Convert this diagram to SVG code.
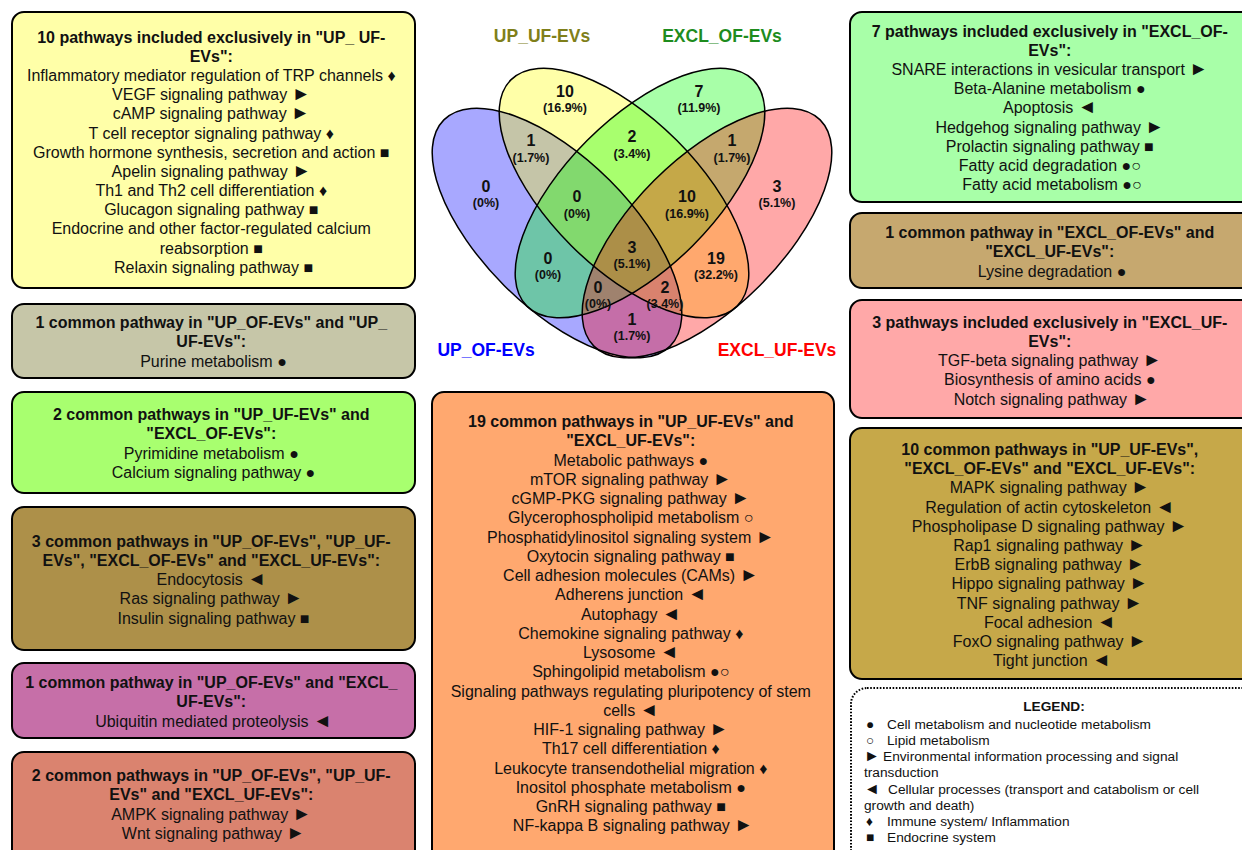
<svg xmlns="http://www.w3.org/2000/svg" width="1242" height="850" viewBox="0 0 1242 850">
<style>
.box{stroke:#000;stroke-width:2}
.t{font-family:"Liberation Sans",Arial,sans-serif;font-size:16px;fill:#111;text-anchor:middle}
.b{font-weight:bold}
.s{font-size:19px}
.vn{font-family:"Liberation Sans",Arial,sans-serif;font-weight:bold;font-size:16px;fill:#111;text-anchor:middle}
.vp{font-family:"Liberation Sans",Arial,sans-serif;font-weight:bold;font-size:12.5px;fill:#111;text-anchor:middle}
.set{font-family:"Liberation Sans",Arial,sans-serif;font-weight:bold;font-size:17.5px;text-anchor:middle}
.ef{stroke:none;fill-opacity:0.34}
.es{fill:none;stroke:#000;stroke-width:1.5}
.lg{font-family:"Liberation Sans",Arial,sans-serif;font-size:13.7px;fill:#111}
.ls{font-size:16px}
</style>
<rect x="0" y="0" width="1242" height="850" fill="#fff"/>

<g id="venn">
  <ellipse class="ef" cx="557" cy="233" rx="160" ry="74.5" transform="rotate(45 557 233)" fill="#0000FF"/>
  <ellipse class="ef" cx="624" cy="193" rx="160" ry="74.5" transform="rotate(45 624 193)" fill="#FFFF00"/>
  <ellipse class="ef" cx="640" cy="193" rx="160" ry="74.5" transform="rotate(-45 640 193)" fill="#00FF00"/>
  <ellipse class="ef" cx="707" cy="233" rx="160" ry="74.5" transform="rotate(-45 707 233)" fill="#FF0000"/>
  <ellipse class="es" cx="557" cy="233" rx="160" ry="74.5" transform="rotate(45 557 233)"/>
  <ellipse class="es" cx="624" cy="193" rx="160" ry="74.5" transform="rotate(45 624 193)"/>
  <ellipse class="es" cx="640" cy="193" rx="160" ry="74.5" transform="rotate(-45 640 193)"/>
  <ellipse class="es" cx="707" cy="233" rx="160" ry="74.5" transform="rotate(-45 707 233)"/>
  <text class="set" x="542" y="42" fill="#7F7F1A">UP_UF-EVs</text>
  <text class="set" x="722" y="42" fill="#1E8C1E">EXCL_OF-EVs</text>
  <text class="set" x="486" y="356" fill="#0000FF">UP_OF-EVs</text>
  <text class="set" x="777" y="356" fill="#FF0000">EXCL_UF-EVs</text>
  <text class="vn" x="565" y="97">10</text><text class="vp" x="565" y="112">(16.9%)</text>
  <text class="vn" x="699" y="97">7</text><text class="vp" x="699" y="112">(11.9%)</text>
  <text class="vn" x="531" y="146">1</text><text class="vp" x="531" y="161.5">(1.7%)</text>
  <text class="vn" x="632" y="142">2</text><text class="vp" x="632" y="157.5">(3.4%)</text>
  <text class="vn" x="732" y="146">1</text><text class="vp" x="732" y="161.5">(1.7%)</text>
  <text class="vn" x="486" y="191.5">0</text><text class="vp" x="486" y="206.5">(0%)</text>
  <text class="vn" x="577" y="202">0</text><text class="vp" x="577" y="217.5">(0%)</text>
  <text class="vn" x="687" y="202">10</text><text class="vp" x="687" y="217.5">(16.9%)</text>
  <text class="vn" x="777" y="191.5">3</text><text class="vp" x="777" y="206.5">(5.1%)</text>
  <text class="vn" x="548" y="264">0</text><text class="vp" x="548" y="279">(0%)</text>
  <text class="vn" x="632" y="252.5">3</text><text class="vp" x="632" y="267.5">(5.1%)</text>
  <text class="vn" x="716" y="264">19</text><text class="vp" x="716" y="279">(32.2%)</text>
  <text class="vn" x="598" y="293">0</text><text class="vp" x="598" y="308">(0%)</text>
  <text class="vn" x="665" y="293">2</text><text class="vp" x="665" y="308">(3.4%)</text>
  <text class="vn" x="632" y="325">1</text><text class="vp" x="632" y="340">(1.7%)</text>
</g>

<g id="connectors"></g>

<g id="box-up-uf-only">
  <rect class="box" x="12" y="12" width="403" height="276" rx="12" fill="#FFFFA8"/>
  <text class="t" x="213.5" y="42.5">
    <tspan class="b">10 pathways included exclusively in "UP_ UF-</tspan>
    <tspan class="b" x="213.5" dy="19.2">EVs":</tspan>
    <tspan x="213.5" dy="19.2">Inflammatory mediator regulation of TRP channels ♦</tspan>
    <tspan x="213.5" dy="19.2">VEGF signaling pathway <tspan class="s">►</tspan></tspan>
    <tspan x="213.5" dy="19.2">cAMP signaling pathway <tspan class="s">►</tspan></tspan>
    <tspan x="213.5" dy="19.2">T cell receptor signaling pathway ♦</tspan>
    <tspan x="213.5" dy="19.2">Growth hormone synthesis, secretion and action ■</tspan>
    <tspan x="213.5" dy="19.2">Apelin signaling pathway <tspan class="s">►</tspan></tspan>
    <tspan x="213.5" dy="19.2">Th1 and Th2 cell differentiation ♦</tspan>
    <tspan x="213.5" dy="19.2">Glucagon signaling pathway ■</tspan>
    <tspan x="213.5" dy="19.2">Endocrine and other factor-regulated calcium</tspan>
    <tspan x="213.5" dy="19.2">reabsorption ■</tspan>
    <tspan x="213.5" dy="19.2">Relaxin signaling pathway ■</tspan>
  </text>
</g>

<g id="box-upof-upuf">
  <rect class="box" x="12" y="304" width="403" height="74" rx="12" fill="#C6C6A8"/>
  <text class="t" x="213.5" y="328">
    <tspan class="b">1 common pathway in "UP_OF-EVs" and "UP_</tspan>
    <tspan class="b" x="213.5" dy="19.3">UF-EVs":</tspan>
    <tspan x="213.5" dy="19.3">Purine metabolism ●</tspan>
  </text>
</g>

<g id="box-upuf-exclof">
  <rect class="box" x="12" y="392" width="403" height="101" rx="12" fill="#A8FF6F"/>
  <text class="t" x="213.5" y="420">
    <tspan class="b">2 common pathways in "UP_UF-EVs" and</tspan>
    <tspan class="b" x="213.5" dy="19.3">"EXCL_OF-EVs":</tspan>
    <tspan x="213.5" dy="19.3">Pyrimidine metabolism ●</tspan>
    <tspan x="213.5" dy="19.3">Calcium signaling pathway ●</tspan>
  </text>
</g>

<g id="box-all-four">
  <rect class="box" x="12" y="507" width="403" height="143" rx="12" fill="#AD9049"/>
  <text class="t" x="213.5" y="546.5">
    <tspan class="b">3 common pathways in "UP_OF-EVs", "UP_UF-</tspan>
    <tspan class="b" x="213.5" dy="19.3">EVs", "EXCL_OF-EVs" and "EXCL_UF-EVs":</tspan>
    <tspan x="213.5" dy="19.3">Endocytosis <tspan class="s">◄</tspan></tspan>
    <tspan x="213.5" dy="19.3">Ras signaling pathway <tspan class="s">►</tspan></tspan>
    <tspan x="213.5" dy="19.3">Insulin signaling pathway ■</tspan>
  </text>
</g>

<g id="box-upof-excluf">
  <rect class="box" x="12" y="663" width="403" height="75" rx="12" fill="#C66FA8"/>
  <text class="t" x="213.5" y="688">
    <tspan class="b">1 common pathway in "UP_OF-EVs" and "EXCL_</tspan>
    <tspan class="b" x="213.5" dy="19.3">UF-EVs":</tspan>
    <tspan x="213.5" dy="19.3">Ubiquitin mediated proteolysis <tspan class="s">◄</tspan></tspan>
  </text>
</g>

<g id="box-upof-upuf-excluf">
  <rect class="box" x="12" y="752" width="403" height="120" rx="12" fill="#DA836F"/>
  <text class="t" x="213.5" y="781">
    <tspan class="b">2 common pathways in "UP_OF-EVs", "UP_UF-</tspan>
    <tspan class="b" x="213.5" dy="19.3">EVs" and "EXCL_UF-EVs":</tspan>
    <tspan x="213.5" dy="19.3">AMPK signaling pathway <tspan class="s">►</tspan></tspan>
    <tspan x="213.5" dy="19.3">Wnt signaling pathway <tspan class="s">►</tspan></tspan>
  </text>
</g>

<g id="box-upuf-excluf">
  <rect class="box" x="432" y="392" width="402" height="480" rx="12" fill="#FFA86F"/>
  <text class="t" x="633" y="427">
    <tspan class="b">19 common pathways in "UP_UF-EVs" and</tspan>
    <tspan class="b" x="633" dy="19.25">"EXCL_UF-EVs":</tspan>
    <tspan x="633" dy="19.25">Metabolic pathways ●</tspan>
    <tspan x="633" dy="19.25">mTOR signaling pathway <tspan class="s">►</tspan></tspan>
    <tspan x="633" dy="19.25">cGMP-PKG signaling pathway <tspan class="s">►</tspan></tspan>
    <tspan x="633" dy="19.25">Glycerophospholipid metabolism ○</tspan>
    <tspan x="633" dy="19.25">Phosphatidylinositol signaling system <tspan class="s">►</tspan></tspan>
    <tspan x="633" dy="19.25">Oxytocin signaling pathway ■</tspan>
    <tspan x="633" dy="19.25">Cell adhesion molecules (CAMs) <tspan class="s">►</tspan></tspan>
    <tspan x="633" dy="19.25">Adherens junction <tspan class="s">◄</tspan></tspan>
    <tspan x="633" dy="19.25">Autophagy <tspan class="s">◄</tspan></tspan>
    <tspan x="633" dy="19.25">Chemokine signaling pathway ♦</tspan>
    <tspan x="633" dy="19.25">Lysosome <tspan class="s">◄</tspan></tspan>
    <tspan x="633" dy="19.25">Sphingolipid metabolism ●○</tspan>
    <tspan x="633" dy="19.25">Signaling pathways regulating pluripotency of stem</tspan>
    <tspan x="633" dy="19.25">cells <tspan class="s">◄</tspan></tspan>
    <tspan x="633" dy="19.25">HIF-1 signaling pathway <tspan class="s">►</tspan></tspan>
    <tspan x="633" dy="19.25">Th17 cell differentiation ♦</tspan>
    <tspan x="633" dy="19.25">Leukocyte transendothelial migration ♦</tspan>
    <tspan x="633" dy="19.25">Inositol phosphate metabolism ●</tspan>
    <tspan x="633" dy="19.25">GnRH signaling pathway ■</tspan>
    <tspan x="633" dy="19.25">NF-kappa B signaling pathway <tspan class="s">►</tspan></tspan>
  </text>
</g>

<g id="box-exclof-only">
  <rect class="box" x="850" y="12" width="403" height="190" rx="12" fill="#A8FFA8"/>
  <text class="t" x="1052" y="36.5">
    <tspan class="b">7 pathways included exclusively in "EXCL_OF-</tspan>
    <tspan class="b" x="1052" dy="19.2">EVs":</tspan>
    <tspan x="1052" dy="19.2">SNARE interactions in vesicular transport <tspan class="s">►</tspan></tspan>
    <tspan x="1052" dy="19.2">Beta-Alanine metabolism ●</tspan>
    <tspan x="1052" dy="19.2">Apoptosis <tspan class="s">◄</tspan></tspan>
    <tspan x="1052" dy="19.2">Hedgehog signaling pathway <tspan class="s">►</tspan></tspan>
    <tspan x="1052" dy="19.2">Prolactin signaling pathway ■</tspan>
    <tspan x="1052" dy="19.2">Fatty acid degradation ●○</tspan>
    <tspan x="1052" dy="19.2">Fatty acid metabolism ●○</tspan>
  </text>
</g>

<g id="box-exclof-excluf">
  <rect class="box" x="850" y="213" width="403" height="75" rx="12" fill="#C6A86F"/>
  <text class="t" x="1052" y="238">
    <tspan class="b">1 common pathway in "EXCL_OF-EVs" and</tspan>
    <tspan class="b" x="1052" dy="19.3">"EXCL_UF-EVs":</tspan>
    <tspan x="1052" dy="19.3">Lysine degradation ●</tspan>
  </text>
</g>

<g id="box-excluf-only">
  <rect class="box" x="850" y="300" width="403" height="118" rx="12" fill="#FFA8A8"/>
  <text class="t" x="1052" y="327.5">
    <tspan class="b">3 pathways included exclusively in "EXCL_UF-</tspan>
    <tspan class="b" x="1052" dy="19.3">EVs":</tspan>
    <tspan x="1052" dy="19.3">TGF-beta signaling pathway <tspan class="s">►</tspan></tspan>
    <tspan x="1052" dy="19.3">Biosynthesis of amino acids ●</tspan>
    <tspan x="1052" dy="19.3">Notch signaling pathway <tspan class="s">►</tspan></tspan>
  </text>
</g>

<g id="box-upuf-exclof-excluf">
  <rect class="box" x="850" y="428" width="403" height="251" rx="12" fill="#C6A849"/>
  <text class="t" x="1052" y="455">
    <tspan class="b">10 common pathways in "UP_UF-EVs",</tspan>
    <tspan class="b" x="1052" dy="19.2">"EXCL_OF-EVs" and "EXCL_UF-EVs":</tspan>
    <tspan x="1052" dy="19.2">MAPK signaling pathway <tspan class="s">►</tspan></tspan>
    <tspan x="1052" dy="19.2">Regulation of actin cytoskeleton <tspan class="s">◄</tspan></tspan>
    <tspan x="1052" dy="19.2">Phospholipase D signaling pathway <tspan class="s">►</tspan></tspan>
    <tspan x="1052" dy="19.2">Rap1 signaling pathway <tspan class="s">►</tspan></tspan>
    <tspan x="1052" dy="19.2">ErbB signaling pathway <tspan class="s">►</tspan></tspan>
    <tspan x="1052" dy="19.2">Hippo signaling pathway <tspan class="s">►</tspan></tspan>
    <tspan x="1052" dy="19.2">TNF signaling pathway <tspan class="s">►</tspan></tspan>
    <tspan x="1052" dy="19.2">Focal adhesion <tspan class="s">◄</tspan></tspan>
    <tspan x="1052" dy="19.2">FoxO signaling pathway <tspan class="s">►</tspan></tspan>
    <tspan x="1052" dy="19.2">Tight junction <tspan class="s">◄</tspan></tspan>
  </text>
</g>

<g id="legend">
  <rect x="851" y="688" width="420" height="200" rx="16" fill="#fff" stroke="#000" stroke-width="2" stroke-dasharray="1.6 1.6"/>
  <text class="lg b" x="1054" y="711" text-anchor="middle">LEGEND:</text>
  <text class="lg" x="866" y="729">●</text><text class="lg" x="887" y="729">Cell metabolism and nucleotide metabolism</text>
  <text class="lg" x="866" y="745">○</text><text class="lg" x="887" y="745">Lipid metabolism</text>
  <text class="lg ls" x="864" y="761">►</text><text class="lg" x="883" y="761">Environmental information processing and signal</text>
  <text class="lg" x="864" y="777">transduction</text>
  <text class="lg ls" x="864" y="794">◄</text><text class="lg" x="888" y="794">Cellular processes (transport and catabolism or cell</text>
  <text class="lg" x="864" y="810">growth and death)</text>
  <text class="lg" x="866" y="826">♦</text><text class="lg" x="887" y="826">Immune system/ Inflammation</text>
  <text class="lg" x="866" y="842">■</text><text class="lg" x="887" y="842">Endocrine system</text>
</g>
</svg>
